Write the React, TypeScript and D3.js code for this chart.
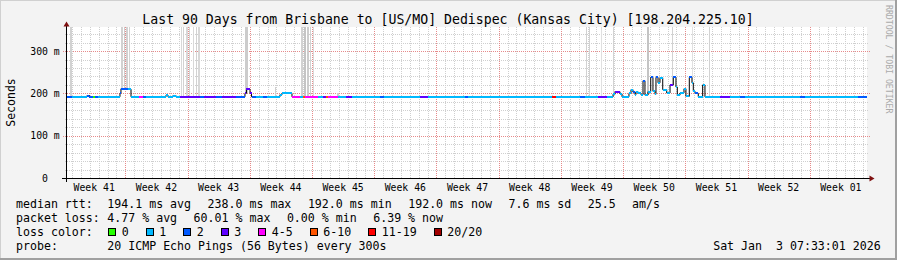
import React from "react";
import * as d3 from "d3";

const W = 897;
const H = 260;
const DAY = 86400000;
const START = Date.UTC(2025, 9, 6, 10, 34);
const PERIOD_DAYS = 90;

const TITLE = "Last 90 Days from Brisbane to [US/MO] Dedispec (Kansas City) [198.204.225.10]";
const WEEK_LABELS = ["Week 41", "Week 42", "Week 43", "Week 44", "Week 45", "Week 46", "Week 47", "Week 48", "Week 49", "Week 50", "Week 51", "Week 52", "Week 01"];
const Y_TICKS = [0, 100, 200, 300];
const Y_TICK_LABELS = ["0", "100 m", "200 m", "300 m"];
const Y_MAX = 357;

// median samples: start day (from graph start), median ms, loss level index
const SAMPLE_DAY = [0, 0.56, 2.25, 2.53, 2.92, 3.15, 3.49, 5.96, 6.07, 6.86, 7.2, 8.1, 8.55, 8.89, 11.14, 11.36, 11.92, 12.26, 12.71, 14.96, 15.41, 16.76, 17.44, 19.01, 20.02, 20.19, 20.59, 20.76, 21.26, 22.05, 22.5, 23.96, 24.19, 25.31, 26.21, 26.55, 26.77, 28.24, 28.8, 29.14, 29.36, 30.49, 31.39, 32.06, 35.21, 35.66, 39.71, 40.61, 44.77, 45.11, 54.56, 55.01, 57.71, 58.28, 59.74, 60.75, 61.43, 61.65, 62.21, 62.44, 63.22, 63.45, 63.67, 63.9, 64.01, 64.24, 64.57, 64.8, 65.02, 65.36, 65.67, 65.92, 66.15, 66.26, 66.49, 66.71, 67.02, 67.47, 67.84, 68.21, 68.51, 68.66, 68.96, 69.41, 69.63, 70.01, 70.31, 70.46, 70.65, 71.02, 71.51, 71.77, 73.46, 74.58, 75.71, 76.27, 82.46, 83.02, 88.99];
const MEDIAN_MS = [192, 192, 195, 192, 192, 192, 192, 200, 211, 210, 192, 192, 192, 192, 196, 192, 195, 192, 192, 192, 192, 192, 192, 192, 200, 210, 200, 192, 192, 192, 192, 197, 200, 192, 192, 192, 192, 192, 192, 192, 192, 192, 192, 192, 192, 192, 192, 192, 192, 192, 192, 192, 192, 192, 192, 192, 198, 204, 199, 192, 200, 209, 203, 197, 204, 200, 197, 230, 196, 204, 238, 205, 198, 238, 225, 237, 209, 201, 220, 238, 215, 196, 201, 211, 193, 238, 225, 205, 200, 192, 220, 192, 192, 192, 192, 192, 192, 192, 192];
const LOSS_LEVEL = [2, 1, 2, 2, 0, 2, 1, 2, 2, 1, 1, 4, 2, 1, 1, 1, 1, 1, 3, 2, 3, 2, 3, 2, 3, 3, 3, 2, 1, 2, 1, 1, 1, 4, 1, 5, 4, 1, 3, 5, 4, 1, 3, 1, 2, 1, 3, 1, 2, 1, 6, 1, 2, 1, 3, 1, 1, 3, 1, 1, 1, 1, 2, 1, 1, 1, 1, 2, 1, 1, 2, 1, 1, 2, 1, 1, 1, 1, 3, 2, 1, 1, 1, 1, 1, 2, 1, 1, 2, 1, 1, 1, 3, 1, 2, 1, 2, 1, 2];

// smoke (ping spread) bars: start day, end day, highest ping ms, shade
const SMOKE_START = [0.34, 6.13, 6.41, 6.69, 6.97, 12.77, 13.05, 13.39, 13.78, 14.12, 14.46, 14.79, 20.08, 23.4, 26.38, 26.66, 27.0, 27.34, 27.67, 30.32, 58.39, 58.72, 60.13, 61.42, 65.25, 68.06, 70.31, 72.28];
const SMOKE_END = [0.56, 6.3, 6.58, 6.86, 7.14, 12.88, 13.16, 13.56, 13.89, 14.23, 14.57, 14.91, 20.36, 23.51, 26.55, 26.88, 27.22, 27.5, 27.79, 30.6, 58.5, 58.84, 60.24, 61.54, 65.53, 68.17, 70.42, 72.39];
const SMOKE_TOP = [400, 400, 400, 400, 400, 400, 400, 400, 400, 400, 400, 400, 400, 215, 400, 400, 400, 400, 400, 202, 400, 400, 400, 400, 400, 400, 400, 400];
const SMOKE_SHADE = ["#d2d2d2", "#d2d2d2", "#cccccc", "#d2d2d2", "#d2d2d2", "#d8d8d8", "#d2d2d2", "#d8d8d8", "#d2d2d2", "#d8d8d8", "#d2d2d2", "#d8d8d8", "#cccccc", "#cfcfcf", "#d2d2d2", "#c4c4c4", "#cccccc", "#d2d2d2", "#dadada", "#cfcfcf", "#d2d2d2", "#d2d2d2", "#e0e0e0", "#d2d2d2", "#c4c4c4", "#d2d2d2", "#e0e0e0", "#d2d2d2"];

const LOSS_LABELS = ["0", "1", "2", "3", "4-5", "6-10", "11-19", "20/20"];
const LOSS_COLORS = ["#26ff00", "#00b8ff", "#0059ff", "#5e00ff", "#ff00ff", "#ff5500", "#ff0000", "#a10000"];

const MEDIAN_STATS = ["194.1 ms avg", "238.0 ms max", "192.0 ms min", "192.0 ms now", "7.6 ms sd", "25.5", "am/s"];
const LOSS_STATS = ["4.77 % avg", "60.01 % max", "0.00 % min", "6.39 % now"];
const PROBE_TEXT = "20 ICMP Echo Pings (56 Bytes) every 300s";
const DATE_TEXT = "Sat Jan  3 07:33:01 2026";

const MONO = "'DejaVu Sans Mono', monospace";
const CW = 7.0;
const GAP = 16.3;

export default function App() {
  React.useEffect(() => {
    document.body.style.margin = "0";
  }, []);

  const t = (d: number) => new Date(START + d * DAY);
  const x = d3.scaleUtc().domain([t(0), t(PERIOD_DAYS)]).range([67, 867]);
  const y = d3.scaleLinear().domain([0, Y_MAX]).range([178, 27]);
  const [d0, d1] = x.domain();

  const px = (v: number) => Math.round(v) + 0.5;

  const mondays = d3.utcMonday.range(d0, d1);
  const days = d3.utcDay.range(d0, d1).filter((d) => d.getUTCDay() !== 1);
  const weekStarts = d3.utcMonday.range(new Date(+d0 - 7 * DAY), d1);

  const minorY = d3.range(20, Y_MAX, 20).filter((v) => v % 100 !== 0);
  const majorY = Y_TICKS.filter((v) => v > 0);

  const n = SAMPLE_DAY.length;
  const pts: [Date, number][] = SAMPLE_DAY.map((d, i) => [t(d), MEDIAN_MS[i]]);
  pts.push([t(PERIOD_DAYS), MEDIAN_MS[n - 1]]);
  const line = d3
    .line<[Date, number]>()
    .x((d) => x(d[0]))
    .y((d) => y(d[1]))
    .curve(d3.curveStepAfter);

  const statsX = (arr: string[], x0: number) => {
    const out: number[] = [];
    let cx = x0;
    arr.forEach((s) => {
      out.push(cx);
      cx += s.length * CW + GAP;
    });
    return out;
  };
  const mX = statsX(MEDIAN_STATS, 107.3);
  const lX = statsX(LOSS_STATS, 107.3);
  const boxX: number[] = [];
  {
    let cx = 108.3;
    LOSS_LABELS.forEach((l) => {
      boxX.push(cx);
      cx += 11 + l.length * CW + 19.5;
    });
  }

  return (
    <svg
      width={W}
      height={H}
      viewBox={`0 0 ${W} ${H}`}
      style={{ position: "absolute", left: 0, top: 0, display: "block" }}
      fontFamily={MONO}
    >
      <rect x={0} y={0} width={W} height={H} fill="#f3f3f3" />
      {/* 3D frame */}
      <rect x={0} y={0} width={W} height={1} fill="#d0d0d0" />
      <rect x={0} y={0} width={1} height={H} fill="#d0d0d0" />
      <rect x={0} y={H - 2} width={W} height={2} fill="#a0a0a0" />
      <rect x={W - 2} y={0} width={2} height={H} fill="#a0a0a0" />

      <text x={448} y={23.5} fontSize={13.2} textAnchor="middle" fill="#000">
        {TITLE}
      </text>

      {/* canvas */}
      <rect x={67} y={27} width={800} height={151} fill="#ffffff" />

      {/* minor grid */}
      <g stroke="#cfcfcf" strokeWidth={1} strokeDasharray="1,1" shapeRendering="crispEdges">
        {days.map((d, i) => (
          <line key={"vd" + i} x1={px(x(d))} x2={px(x(d))} y1={27} y2={178} />
        ))}
        {minorY.map((v) => (
          <line key={"hm" + v} x1={65} x2={869} y1={px(y(v))} y2={px(y(v))} />
        ))}
      </g>
      {/* major grid */}
      <g stroke="#e68a8a" strokeWidth={1} strokeDasharray="1,1" shapeRendering="crispEdges">
        {mondays.map((d, i) => (
          <line key={"vm" + i} x1={px(x(d))} x2={px(x(d))} y1={27} y2={178} />
        ))}
        {majorY.map((v) => (
          <line key={"hM" + v} x1={63} x2={870} y1={px(y(v))} y2={px(y(v))} />
        ))}
      </g>

      {/* smoke */}
      <g shapeRendering="crispEdges">
        {SMOKE_START.map((s, i) => {
          const x0 = x(t(s));
          const x1 = x(t(SMOKE_END[i]));
          const yt = Math.max(27, y(SMOKE_TOP[i]));
          const yb = y(MEDIAN_MS[d3.bisectRight(SAMPLE_DAY, s) - 1]);
          return (
            <rect key={"s" + i} x={x0} y={yt} width={Math.max(1, x1 - x0)} height={yb - yt} fill={SMOKE_SHADE[i]} />
          );
        })}
      </g>

      {/* median line (black, underneath) */}
      <path d={line(pts) || ""} fill="none" stroke="#000" strokeWidth={1} />
      {/* loss-coloured median bands */}
      <g shapeRendering="crispEdges">
        {SAMPLE_DAY.map((d, i) => {
          const x0 = x(t(d));
          const x1 = x(t(i < n - 1 ? SAMPLE_DAY[i + 1] : PERIOD_DAYS));
          const yc = y(MEDIAN_MS[i]);
          return (
            <rect key={"b" + i} x={x0} y={yc - 1} width={x1 - x0} height={2} fill={LOSS_COLORS[LOSS_LEVEL[i]]} />
          );
        })}
      </g>

      {/* axes */}
      <g shapeRendering="crispEdges" stroke="#000" strokeWidth={1}>
        <line x1={62} x2={870} y1={178.5} y2={178.5} />
        <line x1={66.5} x2={66.5} y1={182} y2={26} />
      </g>
      <path d="M63.5,26.5 L69.5,26.5 L66.5,21.5 Z" fill="#7f1010" />
      <path d="M869.5,175.5 L869.5,181.5 L874.5,178.5 Z" fill="#7f1010" />

      {/* y tick labels */}
      {Y_TICKS.map((v, i) => (
        <text key={"yl" + v} x={45} y={y(v) + 3.5} fontSize={9.8} textAnchor="middle" fill="#000">
          {Y_TICK_LABELS[i]}
        </text>
      ))}
      {/* week labels */}
      {weekStarts.map((m, i) => (
        <text key={"wl" + i} x={x(new Date(+m + 3.5 * DAY))} y={190.5} fontSize={9.8} textAnchor="middle" fill="#000">
          {WEEK_LABELS[i]}
        </text>
      ))}

      <text transform="translate(15,102.5) rotate(-90)" fontSize={11.5} textAnchor="middle" fill="#000">
        Seconds
      </text>

      <text transform="translate(885.5,5) rotate(90)" fontSize={8.2} fill="#aaaaaa">
        RRDTOOL / TOBI OETIKER
      </text>

      {/* legend */}
      <g fontSize={11.6} fill="#000">
        <text x={16} y={208}>median rtt:</text>
        {MEDIAN_STATS.map((s, i) => (
          <text key={"ms" + i} x={mX[i]} y={208}>{s}</text>
        ))}
        <text x={16} y={222}>packet loss:</text>
        {LOSS_STATS.map((s, i) => (
          <text key={"ls" + i} x={lX[i]} y={222}>{s}</text>
        ))}
        <text x={16} y={236}>loss color:</text>
        {LOSS_LABELS.map((l, i) => (
          <g key={"lc" + i}>
            <rect x={Math.round(boxX[i]) + 0.5} y={228.5} width={7} height={7} fill={LOSS_COLORS[i]} stroke="#000" strokeWidth={1} />
            <text x={boxX[i] + 13.5} y={236}>{l}</text>
          </g>
        ))}
        <text x={16} y={250}>probe:</text>
        <text x={107.3} y={250}>{PROBE_TEXT}</text>
        <text x={880.7} y={250} textAnchor="end" style={{ whiteSpace: "pre" }}>{DATE_TEXT}</text>
      </g>
    </svg>
  );
}
